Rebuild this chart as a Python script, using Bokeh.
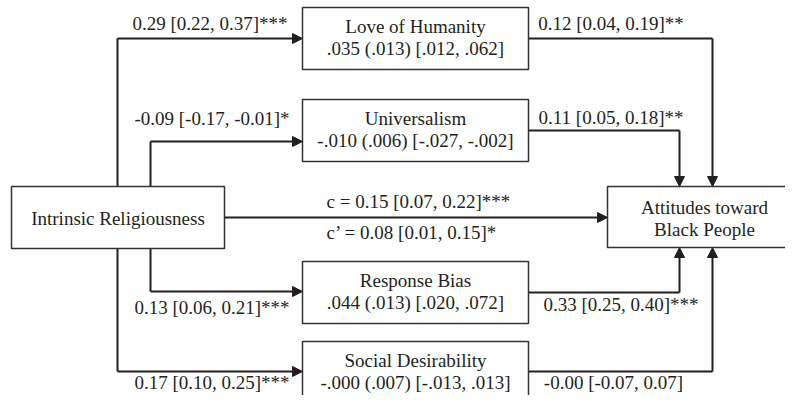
from bokeh.plotting import figure
from bokeh.models import Range1d, Arrow, NormalHead
from bokeh.core.properties import value
from bokeh.embed import file_html
from bokeh.resources import INLINE

# ---- data (texts of the path diagram) ----
predictor = "Intrinsic Religiousness"
outcome = ["Attitudes toward", "Black People"]
mediators = ["Love of Humanity", "Universalism", "Response Bias", "Social Desirability"]
indirect_effects = [".035 (.013) [.012, .062]", "-.010 (.006) [-.027, -.002]",
                    ".044 (.013) [.020, .072]", "-.000 (.007) [-.013, .013]"]
a_paths = ["0.29 [0.22, 0.37]***", "-0.09 [-0.17, -0.01]*",
           "0.13 [0.06, 0.21]***", "0.17 [0.10, 0.25]***"]
b_paths = ["0.12 [0.04, 0.19]**", "0.11 [0.05, 0.18]**",
           "0.33 [0.25, 0.40]***", "-0.00 [-0.07, 0.07]"]
total_effect = "c = 0.15 [0.07, 0.22]***"
direct_effect = "c\u2019 = 0.08 [0.01, 0.15]*"

# ---- layout (screen-like coordinates, y downwards) ----
INK = "#231f20"
FONT = value("Liberation Serif")
FS = "19px"

med_box = dict(x0=302, x1=528)
med_tops = [7, 99, 261, 341]
med_h = 62
pred_box = (11, 224, 186, 248)
out_box = (607, 801, 186, 247)

# entry/exit y of each mediator path
a_y = [38, 141, 291, 371]
b_y = [38, 130, 292, 371]
a_x = [117, 150, 150, 117]
b_x = [712, 679, 679, 712]
a_lab = [(209.5, 23), (211.5, 118), (211.5, 307), (211.5, 382)]
b_lab = [(610.5, 23), (610.5, 117), (620.5, 304), (613, 382)]

p = figure(width=785, height=395, x_range=Range1d(0, 785), y_range=Range1d(395, 0),
           output_backend="svg", toolbar_location=None, min_border=0,
           x_axis_location=None, y_axis_location=None, outline_line_color=None,
           background_fill_color="white", border_fill_color="white")
p.grid.visible = False

LW = 2

def head():
    return NormalHead(size=10, fill_color=INK, line_color=INK, line_width=1)

# a paths
xs, ys = [], []
for i in range(4):
    y_start = pred_box[2] if a_y[i] < 217 else pred_box[3]
    xs.append([a_x[i], a_x[i]])
    ys.append([y_start, a_y[i]])
    p.add_layout(Arrow(end=head(), x_start=a_x[i], y_start=a_y[i], x_end=med_box["x0"], y_end=a_y[i],
                       line_color=INK, line_width=LW))
# b paths
for i in range(4):
    y_end = out_box[2] if b_y[i] < 217 else out_box[3]
    xs.append([med_box["x1"], b_x[i]])
    ys.append([b_y[i], b_y[i]])
    p.add_layout(Arrow(end=head(), x_start=b_x[i], y_start=b_y[i], x_end=b_x[i], y_end=y_end,
                       line_color=INK, line_width=LW))
p.multi_line(xs, ys, line_color=INK, line_width=LW)

# direct path
p.add_layout(Arrow(end=head(), x_start=pred_box[1], y_start=217, x_end=out_box[0], y_end=217,
                   line_color=INK, line_width=LW))

# boxes
lefts = [pred_box[0], out_box[0]] + [med_box["x0"]] * 4
rights = [pred_box[1], out_box[1]] + [med_box["x1"]] * 4
tops = [pred_box[2], out_box[2]] + med_tops
bottoms = [pred_box[3], out_box[3]] + [t + med_h for t in med_tops]
p.quad(left=lefts, right=rights, top=tops, bottom=bottoms,
       fill_color="white", line_color="#333333", line_width=1.5)

# texts
tx, ty, tt = [], [], []
tx.append((pred_box[0] + pred_box[1]) / 2); ty.append(218); tt.append(predictor)
cx_out = (out_box[0] + out_box[1]) / 2
tx += [cx_out, cx_out]; ty += [207, 229]; tt += outcome
cx_med = (med_box["x0"] + med_box["x1"]) / 2
for i in range(4):
    tx += [cx_med, cx_med]; ty += [med_tops[i] + 19, med_tops[i] + 41]
    tt += [mediators[i], indirect_effects[i]]
    tx += [a_lab[i][0], b_lab[i][0]]; ty += [a_lab[i][1], b_lab[i][1]]
    tt += [a_paths[i], b_paths[i]]
p.text(x=tx, y=ty, text=tt, text_align="center", text_baseline="middle",
       text_font=FONT, text_font_size=FS, text_color=INK)
p.text(x=[326, 326], y=[201, 232], text=[total_effect, direct_effect], text_align="left",
       text_baseline="middle", text_font=FONT, text_font_size=FS, text_color=INK)

open("out.html", "w").write(file_html(p, INLINE))
